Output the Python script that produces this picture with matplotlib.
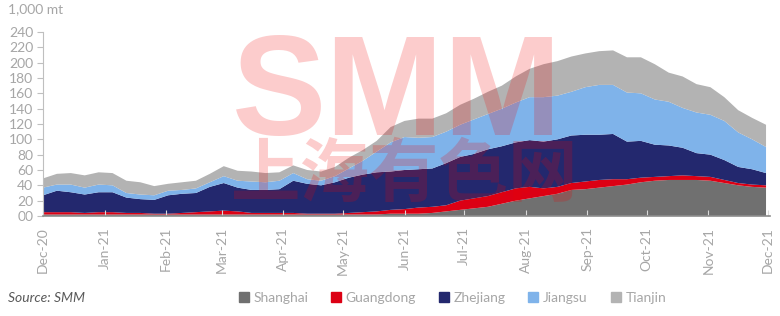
import matplotlib
matplotlib.use("Agg")
import matplotlib.pyplot as plt
import matplotlib.dates as mdates
from matplotlib.patches import Rectangle
from matplotlib.lines import Line2D
import numpy as np
import pandas as pd

# ---------------- data (1,000 mt), weekly ----------------
start_date = "2020-12-01"
n_weeks = 53
shanghai = [2, 2, 2, 2, 2, 2, 2, 2, 2, 2, 2, 2, 2, 2, 2, 2, 2, 2, 2, 2, 2, 2, 2, 2, 2,
            3, 3, 3, 4, 6, 8, 10, 12, 16, 20, 23, 26, 29, 34, 35, 37, 39, 41, 44, 46,
            47, 47, 47, 46, 43, 40, 38, 37]
guangdong = [3, 3, 3, 2, 3, 3, 2, 2, 1, 1, 2, 3, 4, 5, 4, 2, 2, 2, 2, 1, 1, 1, 2, 3, 4,
             5, 6, 8, 8, 8, 12, 13, 14, 15, 16, 15, 10, 9, 9, 10, 10, 9, 7, 6, 5,
             5, 6, 5, 5, 4, 3, 3, 3]
zhejiang = [22, 28, 26, 24, 26, 26, 20, 18, 18, 24, 25, 25, 32, 36, 31, 30, 30, 31, 42, 39,
            37, 41, 46, 49, 51, 50, 51, 50, 50, 55, 57, 58, 61, 60, 60, 61, 61, 62, 62, 61,
            59, 59, 49, 48, 42, 40, 36, 30, 29, 26, 21, 20, 16]
jiangsu = [10, 8, 10, 9, 10, 9, 6, 6, 6, 6, 5, 6, 6, 9, 9, 11, 10, 11, 10, 6,
           6, 8, 12, 18, 27, 38, 43, 41, 41, 41, 42, 45, 46, 49, 52, 56, 58, 57, 57, 62,
           65, 64, 64, 62, 59, 57, 52, 53, 52, 51, 45, 39, 34]
tianjin = [12, 14, 15, 16, 16, 16, 16, 16, 12, 9, 10, 10, 11, 13, 13, 13, 12, 11, 10, 12,
           12, 12, 14, 14, 14, 20, 21, 25, 24, 24, 26, 27, 29, 30, 34, 37, 43, 45, 46, 44,
           44, 45, 46, 47, 46, 38, 41, 37, 36, 31, 29, 28, 29]

series_names = ["Shanghai", "Guangdong", "Zhejiang", "Jiangsu", "Tianjin"]
series_colors = ["#707070", "#DC0014", "#23286E", "#7FB3EA", "#B3B3B3"]
y_ticks = [0, 20, 40, 60, 80, 100, 120, 140, 160, 180, 200, 220, 240]

dates = pd.date_range(start_date, periods=n_weeks, freq="7D")

# ---------------- figure ----------------
W, H = 780, 316
fig = plt.figure(figsize=(W / 100, H / 100), dpi=100)
plt.rcParams["font.family"] = ["Lato", "DejaVu Sans"]

ax = fig.add_axes([43 / W, 1 - 216 / H, 727 / W, 184 / H])
ax.stackplot(dates, shanghai, guangdong, zhejiang, jiangsu, tianjin,
             colors=series_colors, labels=series_names, linewidth=0)

ax.set_ylim(0, 240)
ax.set_xlim(pd.Timestamp("2020-12-01"), pd.Timestamp("2021-12-02"))
ax.set_yticks(y_ticks)
ax.set_yticklabels([f"{v:02d}" for v in y_ticks])

ax.xaxis.set_major_locator(mdates.MonthLocator())
ax.xaxis.set_major_formatter(mdates.DateFormatter("%b-%y"))

label_col = "#A6A6A6"
ax.tick_params(axis="y", direction="out", length=4, color="#BFBFBF",
               labelcolor=label_col, labelsize=10, pad=3)
ax.tick_params(axis="x", direction="in", length=4, color="#D9D9D9",
               labelcolor=label_col, labelsize=10, pad=8, labelrotation=90)

for side in ["top", "right"]:
    ax.spines[side].set_visible(False)
ax.spines["left"].set_color("#BFBFBF")
ax.spines["bottom"].set_color("#8C8C8C")
ax.spines["bottom"].set_linewidth(1.2)
ax.set_facecolor("white")

fig.text(8 / W, 1 - 9 / H, "1,000 mt", color=label_col, fontsize=10,
         ha="left", va="center")

fig.text(8 / W, 1 - 298 / H, "Source: SMM", color="#595959", fontsize=10,
         style="italic", ha="left", va="center")

handles = [Line2D([0], [0], marker="s", linestyle="none", markersize=7,
                  markerfacecolor=c, markeredgecolor=c) for c in series_colors]
leg = fig.legend(handles, series_names, loc="center",
                 bbox_to_anchor=(452 / W, 1 - 298 / H), ncol=5, frameon=False,
                 fontsize=10, handlelength=0.8, handletextpad=0.3,
                 columnspacing=1.6, labelcolor=label_col)

# watermark
fig.text(232 / W, 1 - 135 / H, "SMM", fontsize=102, fontweight="bold",
         family=["Liberation Sans", "DejaVu Sans"], color=(0.94, 0, 0),
         alpha=0.2, ha="left", va="baseline", zorder=10)
fig.text(230 / W, 1 - 176 / H, "上海有色网", fontsize=50, fontweight="bold",
         family=["Noto Sans CJK SC", "DejaVu Sans"], color=(0.94, 0, 0),
         alpha=0.2, ha="left", va="center", zorder=10)

fig.savefig("out.png", dpi=100)
